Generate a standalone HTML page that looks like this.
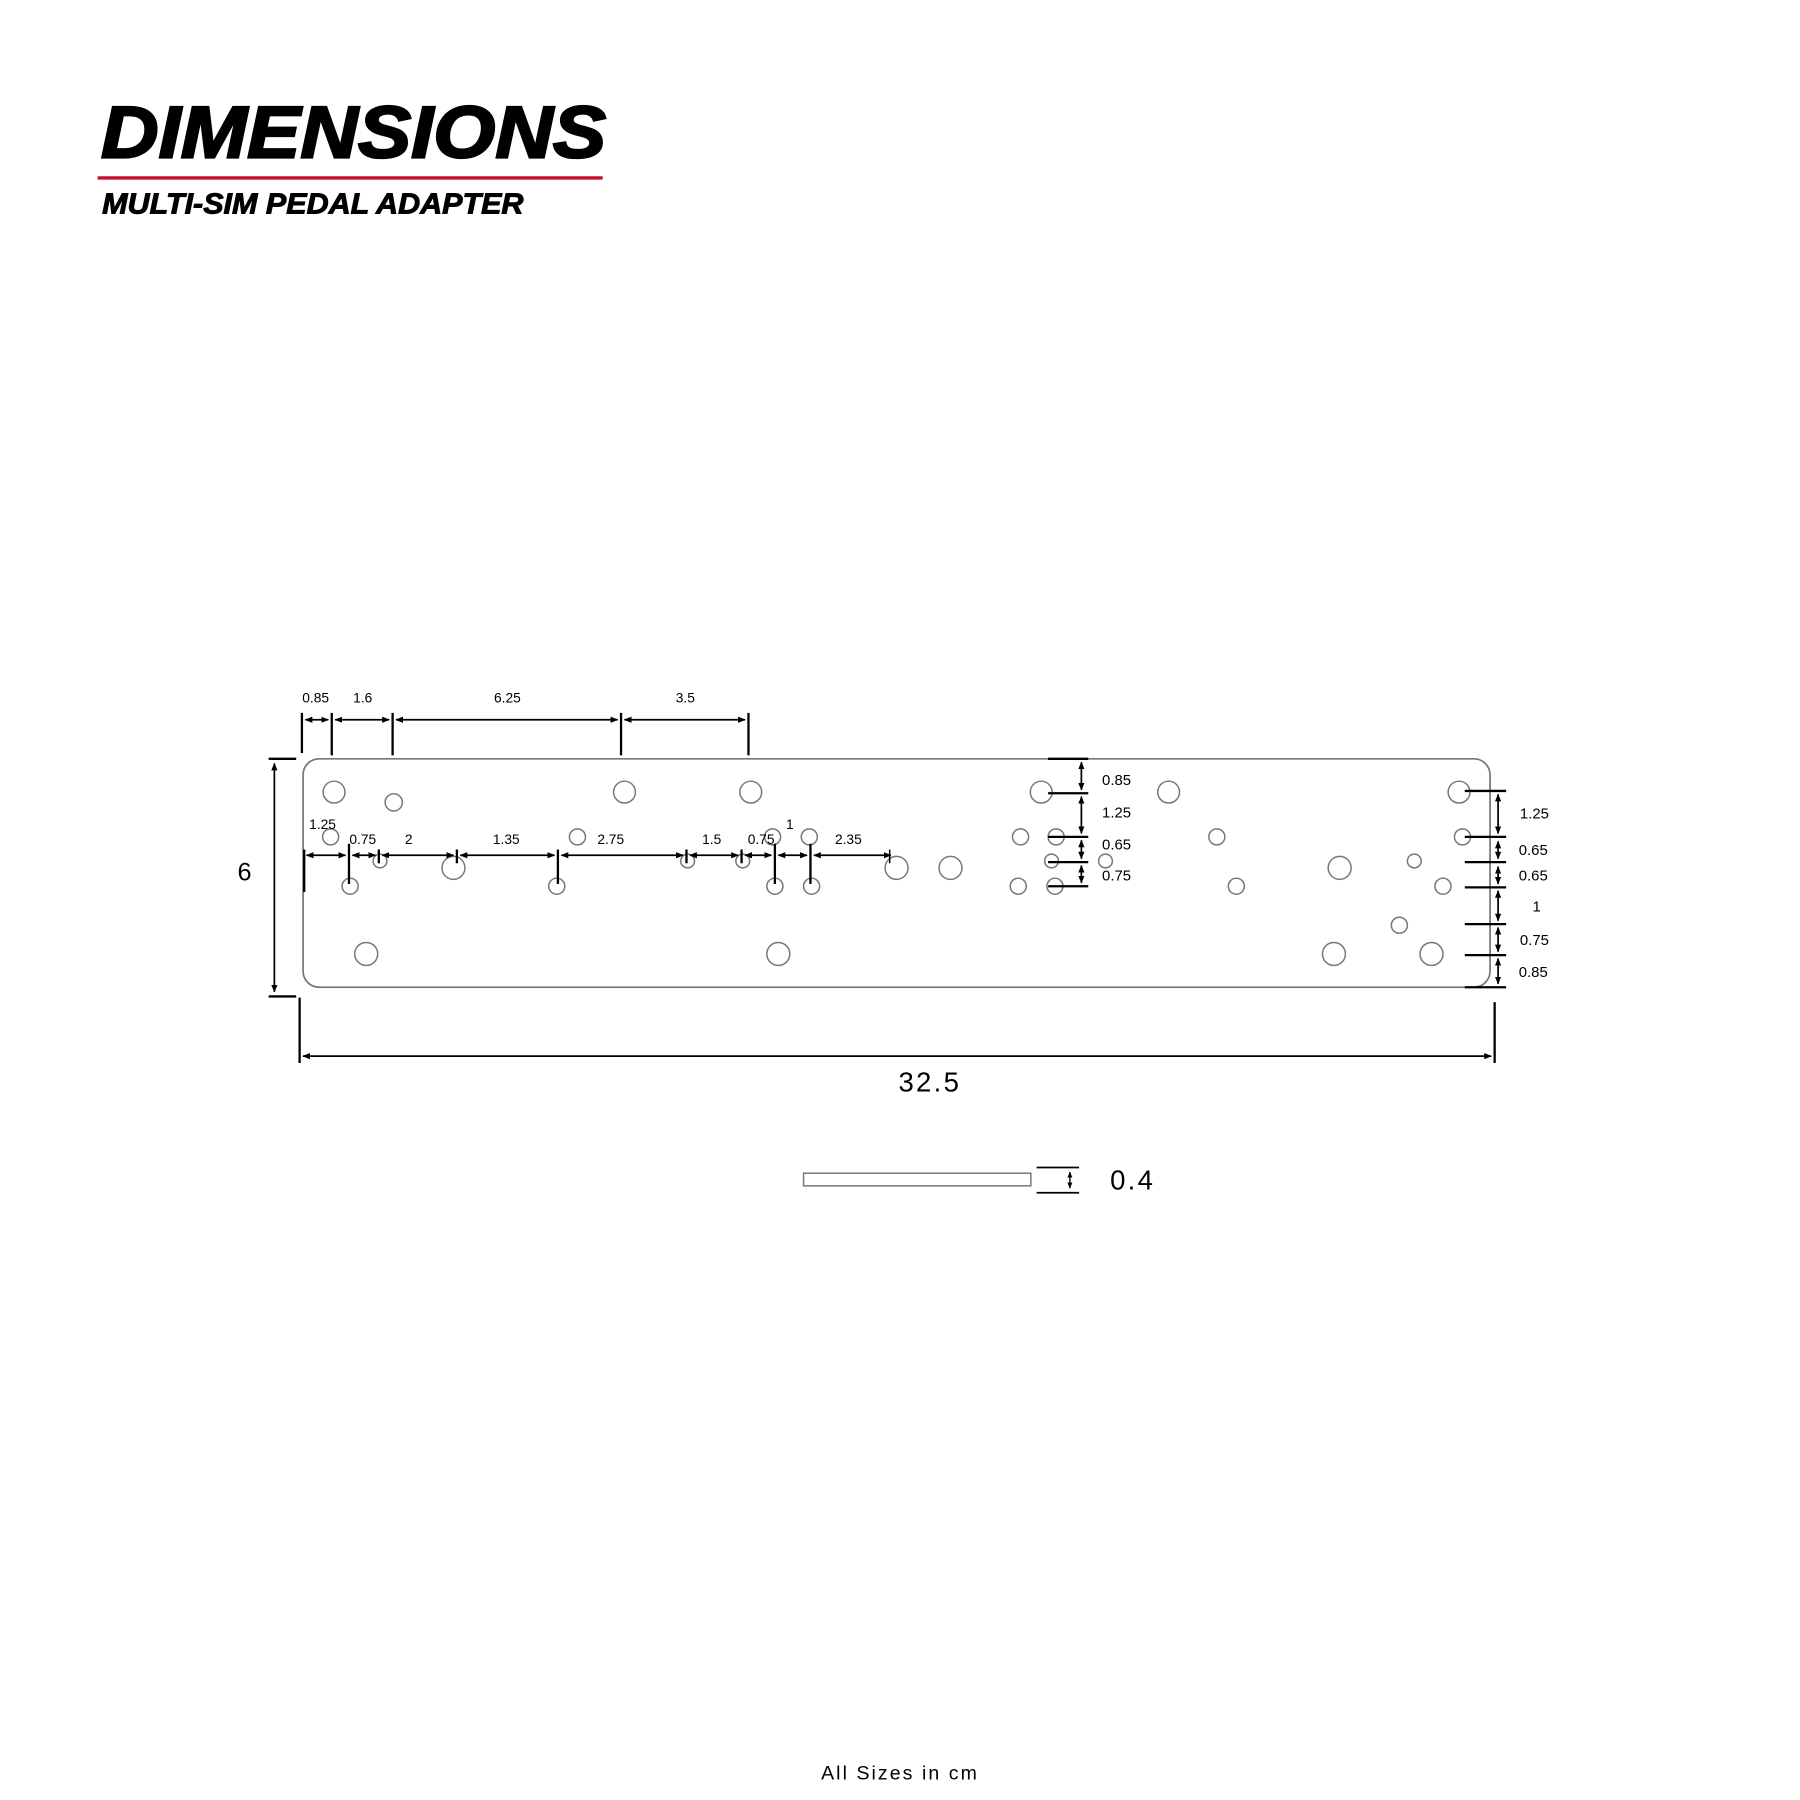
<!DOCTYPE html>
<html><head><meta charset="utf-8"><style>html,body{margin:0;padding:0;background:#fff}svg{display:block}</style></head>
<body>
<svg width="1800" height="1800" viewBox="0 0 1568 1568" xmlns="http://www.w3.org/2000/svg" font-family="Liberation Sans, sans-serif">
<defs>
<marker id="a" viewBox="0 0 10 10" refX="9" refY="5" markerWidth="4.5" markerHeight="4.5" orient="auto-start-reverse"><path d="M0,1 L10,5 L0,9 z" fill="#000"/></marker>
</defs>
<rect width="1568" height="1568" fill="#fff"/>
<text x="88" y="137" font-size="64" font-weight="bold" font-style="italic" stroke="#000" stroke-width="2" textLength="440" lengthAdjust="spacingAndGlyphs">DIMENSIONS</text>
<line x1="85" y1="155" x2="525" y2="155" stroke="#c8102e" stroke-width="3"/>
<text x="89" y="186" font-size="25" font-weight="bold" font-style="italic" stroke="#000" stroke-width="0.8" textLength="367" lengthAdjust="spacingAndGlyphs">MULTI-SIM PEDAL ADAPTER</text>

<rect x="264" y="661" width="1034" height="199" rx="14" fill="none" stroke="#777" stroke-width="1.5"/>
<g fill="none" stroke="#777" stroke-width="1.3">
<circle cx="291" cy="690" r="9.5"/><circle cx="544" cy="690" r="9.5"/><circle cx="654" cy="690" r="9.5"/><circle cx="907" cy="690" r="9.5"/><circle cx="1018" cy="690" r="9.5"/><circle cx="1271" cy="690" r="9.5"/>
<circle cx="343" cy="699" r="7.5"/>
<circle cx="288" cy="729" r="7"/><circle cx="503" cy="729" r="7"/><circle cx="673" cy="729" r="7"/><circle cx="705" cy="729" r="7"/><circle cx="889" cy="729" r="7"/><circle cx="920" cy="729" r="7"/><circle cx="1060" cy="729" r="7"/><circle cx="1274" cy="729" r="7"/>
<circle cx="331" cy="750" r="6"/><circle cx="599" cy="750" r="6"/><circle cx="647" cy="750" r="6"/><circle cx="916" cy="750" r="6"/><circle cx="963" cy="750" r="6"/><circle cx="1232" cy="750" r="6"/>
<circle cx="395" cy="756" r="10"/><circle cx="781" cy="756" r="10"/><circle cx="828" cy="756" r="10"/><circle cx="1167" cy="756" r="10"/>
<circle cx="305" cy="772" r="7"/><circle cx="485" cy="772" r="7"/><circle cx="675" cy="772" r="7"/><circle cx="707" cy="772" r="7"/><circle cx="887" cy="772" r="7"/><circle cx="919" cy="772" r="7"/><circle cx="1077" cy="772" r="7"/><circle cx="1257" cy="772" r="7"/>
<circle cx="1219" cy="806" r="7"/>
<circle cx="319" cy="831" r="10"/><circle cx="678" cy="831" r="10"/><circle cx="1162" cy="831" r="10"/><circle cx="1247" cy="831" r="10"/>
</g>

<g stroke="#000" stroke-width="2" fill="none">
<line x1="263" y1="621" x2="263" y2="656"/><line x1="289" y1="621" x2="289" y2="658"/><line x1="342" y1="621" x2="342" y2="658"/><line x1="541" y1="621" x2="541" y2="658"/><line x1="652" y1="621" x2="652" y2="658"/>
<g stroke-width="1.5" marker-start="url(#a)" marker-end="url(#a)">
<line x1="266" y1="627" x2="286" y2="627"/><line x1="292" y1="627" x2="339" y2="627"/><line x1="345" y1="627" x2="538" y2="627"/><line x1="544" y1="627" x2="649" y2="627"/>
</g>
<line x1="234" y1="661" x2="258" y2="661"/><line x1="234" y1="868" x2="258" y2="868"/>
<line x1="239" y1="665" x2="239" y2="864" stroke-width="1.5" marker-start="url(#a)" marker-end="url(#a)"/>
<line x1="261" y1="869" x2="261" y2="926"/><line x1="1302" y1="873" x2="1302" y2="926"/>
<line x1="264" y1="920" x2="1299" y2="920" stroke-width="1.5" marker-start="url(#a)" marker-end="url(#a)"/>
<line x1="265" y1="740" x2="265" y2="777"/><line x1="304" y1="735" x2="304" y2="770"/><line x1="330" y1="740" x2="330" y2="752"/><line x1="398" y1="740" x2="398" y2="752"/><line x1="486" y1="740" x2="486" y2="770"/><line x1="598" y1="740" x2="598" y2="752"/><line x1="646" y1="740" x2="646" y2="752"/><line x1="675" y1="735" x2="675" y2="770"/><line x1="706" y1="735" x2="706" y2="770"/><line x1="775" y1="740" x2="775" y2="752" stroke-width="1.3"/>
<g stroke-width="1.5" marker-start="url(#a)" marker-end="url(#a)">
<line x1="267" y1="745" x2="301" y2="745"/><line x1="307" y1="745" x2="327" y2="745"/><line x1="333" y1="745" x2="395" y2="745"/><line x1="401" y1="745" x2="483" y2="745"/><line x1="489" y1="745" x2="595" y2="745"/><line x1="601" y1="745" x2="643" y2="745"/><line x1="649" y1="745" x2="672" y2="745"/><line x1="678" y1="745" x2="703" y2="745"/><line x1="709" y1="745" x2="776" y2="745"/>
</g>
<line x1="913" y1="661" x2="948" y2="661"/><line x1="913" y1="691" x2="948" y2="691"/><line x1="913" y1="729" x2="948" y2="729"/><line x1="913" y1="751" x2="948" y2="751"/><line x1="913" y1="772" x2="948" y2="772"/>
<g stroke-width="1.5" marker-start="url(#a)" marker-end="url(#a)">
<line x1="942" y1="664" x2="942" y2="688"/><line x1="942" y1="694" x2="942" y2="726"/><line x1="942" y1="732" x2="942" y2="748"/><line x1="942" y1="754" x2="942" y2="769"/>
</g>
<line x1="1276" y1="689" x2="1312" y2="689"/><line x1="1276" y1="729" x2="1312" y2="729"/><line x1="1276" y1="751" x2="1312" y2="751"/><line x1="1276" y1="773" x2="1312" y2="773"/><line x1="1276" y1="805" x2="1312" y2="805"/><line x1="1276" y1="832" x2="1312" y2="832"/><line x1="1276" y1="860" x2="1312" y2="860"/>
<g stroke-width="1.5" marker-start="url(#a)" marker-end="url(#a)">
<line x1="1305" y1="692" x2="1305" y2="726"/><line x1="1305" y1="733" x2="1305" y2="748"/><line x1="1305" y1="755" x2="1305" y2="770"/><line x1="1305" y1="776" x2="1305" y2="802"/><line x1="1305" y1="808" x2="1305" y2="829"/><line x1="1305" y1="835" x2="1305" y2="857"/>
</g>
<line x1="903" y1="1017" x2="940" y2="1017" stroke-width="1.5"/><line x1="903" y1="1039" x2="940" y2="1039" stroke-width="1.5"/>
<line x1="932" y1="1021" x2="932" y2="1035" stroke-width="1.2" marker-start="url(#a)" marker-end="url(#a)"/>
</g>
<rect x="700" y="1022" width="198" height="11" fill="none" stroke="#777" stroke-width="1.3"/>

<g font-size="12" text-anchor="middle" fill="#000">
<text x="275" y="612">0.85</text><text x="316" y="612">1.6</text><text x="442" y="612">6.25</text><text x="597" y="612">3.5</text>
<text x="281" y="722">1.25</text><text x="316" y="735">0.75</text><text x="356" y="735">2</text><text x="441" y="735">1.35</text><text x="532" y="735">2.75</text><text x="620" y="735">1.5</text><text x="663" y="735">0.75</text><text x="688" y="722">1</text><text x="739" y="735">2.35</text>
</g>
<g font-size="13" fill="#000">
<text x="960" y="684">0.85</text><text x="960" y="712">1.25</text><text x="960" y="740">0.65</text><text x="960" y="767">0.75</text>
<text x="1324" y="713">1.25</text><text x="1323" y="745">0.65</text><text x="1323" y="767">0.65</text><text x="1335" y="794">1</text><text x="1324" y="823">0.75</text><text x="1323" y="851">0.85</text>
</g>
<text x="213" y="767" font-size="22" text-anchor="middle">6</text>
<text x="810" y="951" font-size="24" text-anchor="middle" letter-spacing="2">32.5</text>
<text x="967" y="1036" font-size="24" letter-spacing="2">0.4</text>
<text x="784" y="1550" font-size="17" text-anchor="middle" letter-spacing="1.8">All Sizes in cm</text>
</svg>
</body></html>
